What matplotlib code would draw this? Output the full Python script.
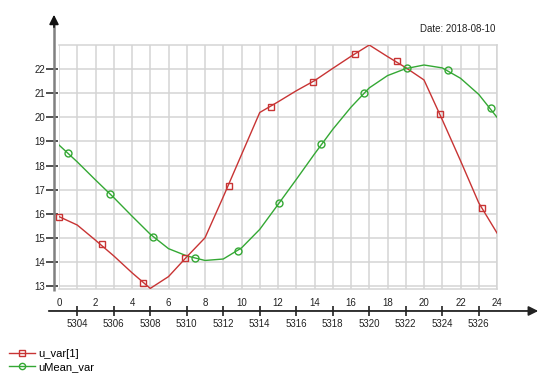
import matplotlib
matplotlib.use("Agg")
import matplotlib.pyplot as plt
from matplotlib.lines import Line2D

plt.rcParams['font.family'] = ['Liberation Sans', 'DejaVu Sans']

# ---- data ----
hours = list(range(25))
u_var = [15.88, 15.53, 14.90, 14.25, 13.55, 12.90, 13.39, 14.21, 15.00, 16.70,
         18.45, 20.20, 20.64, 21.10, 21.52, 22.03, 22.53, 23.00, 22.52, 22.06,
         21.55, 19.90, 18.20, 16.45, 15.20]
u_mean_var = [18.85, 18.15, 17.40, 16.67, 15.90, 15.15, 14.55, 14.25, 14.06, 14.12,
              14.58, 15.35, 16.38, 17.42, 18.48, 19.50, 20.42, 21.22, 21.73, 22.02,
              22.17, 22.05, 21.62, 20.95, 20.00]
u_var_mark_x = [0.0, 2.33, 4.63, 6.93, 9.29, 11.6, 13.9, 16.2, 18.52, 20.86, 23.17]
u_var_mark_y = [15.88, 14.73, 13.11, 14.15, 17.15, 20.41, 21.48, 22.63, 22.35, 20.14, 16.22]
u_mean_mark_x = [0.48, 2.82, 5.13, 7.43, 9.82, 12.05, 14.38, 16.69, 19.05, 21.3, 23.68]
u_mean_mark_y = [18.51, 16.80, 15.05, 14.15, 14.45, 16.43, 18.88, 21.00, 22.03, 21.96, 20.37]

y_ticks = list(range(13, 23))
top_ticks = list(range(0, 25, 2))
top_labels = [str(v) for v in top_ticks]
bottom_ticks = list(range(1, 24, 2))
bottom_labels = [str(v) for v in range(5304, 5327, 2)]
series_labels = ['u_var[1]', 'uMean_var']
date_text = 'Date: 2018-08-10'

RED = '#c83434'
GREEN = '#34a834'
GRID = '#d4d4d4'

W, H = 542, 376
L, R, T, B = 59, 497, 45, 289
fig = plt.figure(figsize=(W / 100, H / 100), dpi=100)
fig.patch.set_facecolor('white')

ax = fig.add_axes([L / W, 1 - B / H, (R - L) / W, (B - T) / H])
ax.set_xlim(0, 24)
ax.set_ylim(12.876, 23.0)
ax.set_xticks(hours)
ax.tick_params(axis='x', length=0, labelbottom=False)
ax.set_yticks(y_ticks)
ax.tick_params(axis='y', direction='inout', length=8, width=1.2, color='#333333',
               pad=1.2, labelsize=7, labelcolor='#222222')
ax.grid(True, color=GRID, lw=1.1)
ax.set_axisbelow(True)
ax.spines['left'].set_position(('outward', 5))
ax.spines['left'].set_visible(False)
for s in ('top', 'right', 'bottom'):
    ax.spines[s].set_color(GRID)
    ax.spines[s].set_linewidth(1.1)

ax.plot(hours, u_var, color=RED, lw=1.0, zorder=3)
ax.plot(u_var_mark_x, u_var_mark_y, ls='none', marker='s', ms=5, mfc='none',
        mec=RED, mew=1.0, zorder=4, clip_on=False)
ax.plot(hours, u_mean_var, color=GREEN, lw=1.0, zorder=3)
ax.plot(u_mean_mark_x, u_mean_mark_y, ls='none', marker='o', ms=5, mfc='none',
        mec=GREEN, mew=1.0, zorder=4, clip_on=False)

# y axis line with arrow
xa = (54 - L) / (R - L)
ax.plot([xa, xa], [(B - 291) / (B - T), (B - 22) / (B - T)], transform=ax.transAxes,
        color='#808080', lw=1.8, clip_on=False, solid_capstyle='butt')
ax.annotate('', xy=(xa, (B - 12) / (B - T)), xytext=(xa, (B - 30) / (B - T)),
            xycoords='axes fraction',
            arrowprops=dict(arrowstyle='-|>', color='#111111', lw=1.2, mutation_scale=14),
            annotation_clip=False)

# x axis (separate line below plot)
ax2 = fig.add_axes([L / W, 1 - 311 / H, (R - L) / W, 1e-4])
ax2.set_xlim(0, 24)
ax2.patch.set_visible(False)
for s in ax2.spines.values():
    s.set_visible(False)
ax2.set_yticks([])
ax2.set_xticks(bottom_ticks, labels=bottom_labels)
ax2.tick_params(axis='x', direction='inout', length=6.5, width=1.2, color='#222222',
                pad=2.5, labelsize=7, labelcolor='#222222')
sec = ax2.secondary_xaxis('top')
sec.set_xticks(top_ticks, labels=top_labels)
sec.tick_params(axis='x', length=0, pad=2.0, labelsize=7, labelcolor='#222222')
for s in sec.spines.values():
    s.set_visible(False)
ax2.annotate('', xy=((541 - L) / (R - L), 0.5), xytext=((46 - L) / (R - L), 0.5),
             xycoords='axes fraction',
             arrowprops=dict(arrowstyle='-|>', color='#222222', lw=1.3, mutation_scale=14),
             annotation_clip=False)

fig.text(495 / W, 1 - 29 / H, date_text, ha='right', va='center', fontsize=7, color='#222222')

handles = [Line2D([], [], color=RED, lw=1.0, marker='s', ms=5, mfc='none', mec=RED),
           Line2D([], [], color=GREEN, lw=1.0, marker='o', ms=4.5, mfc='none', mec=GREEN)]
fig.legend(handles, series_labels, loc='upper left', bbox_to_anchor=(9 / W, 1 - 349 / H),
           frameon=False, fontsize=8, handlelength=2.3, handletextpad=0.35,
           labelspacing=0.25, borderpad=0, borderaxespad=0)

fig.savefig('out.png', dpi=100, facecolor='white')
